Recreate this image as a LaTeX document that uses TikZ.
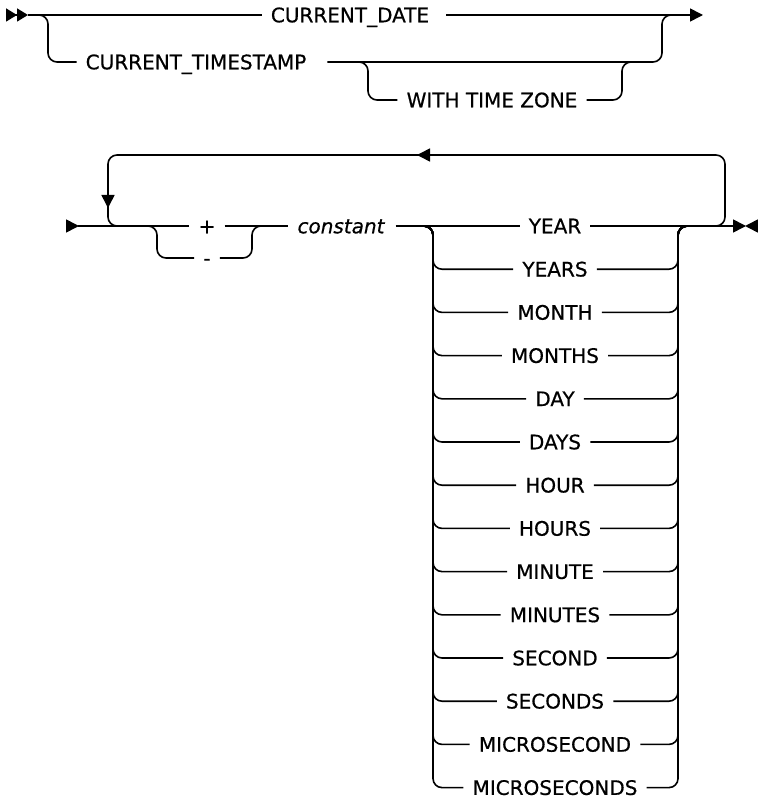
\documentclass[tikz,border=0pt]{standalone}
\usepackage{fontspec}
\setmainfont{DejaVu Sans}[FakeBold=0.6]
\usetikzlibrary{arrows.meta}
\tikzset{rail/.style={line width=1.6pt, rounded corners=9pt},
  kw/.style={font=\fontsize{20}{23}\selectfont, inner xsep=9pt, inner ysep=0pt, text height=14.6pt, text depth=0pt},
  tip/.style={-{Triangle[length=13pt,width=13pt]}}}
\begin{document}
\begin{tikzpicture}[x=1pt,y=-1pt]
\useasboundingbox (0,0) rectangle (757,799);
% first statement:
\node[kw] (cd) at (350,15) {CURRENT\_DATE};
\node[kw] (ct) at (196,62) {CURRENT\_TIMESTAMP};
\node[kw] (wtz) at (492,100) {WITH TIME ZONE};
\coordinate (a0) at (6,15);\coordinate (a1) at (48,62);\coordinate (a2) at (662,15);\coordinate (a3) at (703,15);
\coordinate (b1) at (368,100);\coordinate (b2) at (622,62);
\draw[rail, -{Triangle[length=11pt,width=13pt]Triangle[length=11pt,width=13pt]}] (a0) -- ++(22,0);
\draw[rail] ([xshift=22pt]a0) -- (cd.west);\draw[rail, tip] ([xshift=8pt]cd.east) -- (a3);
\draw[rail] ([xshift=-12pt]a1 |- a0) -| (a1) -- (ct.west);
\draw[rail] ([xshift=12pt]ct.east) -| (a2) -- ++(10,0);
\draw[rail] ([xshift=-10pt]b1 |- b2) -| (b1) -- (wtz.west);
\draw[rail] (wtz.east) -| (b2) -- ++(10,0);
% second statement:
\node[kw] (pl) at (207,226) {+};
\node[kw] (mi) at (207,258) {-};
\node[kw, font=\fontsize{20}{23}\selectfont\itshape] (cn) at (341,226) {constant};
\foreach \w [count=\i from 0] in {YEAR,YEARS,MONTH,MONTHS,DAY,DAYS,HOUR,HOURS,MINUTE,MINUTES,SECOND,SECONDS,MICROSECOND,MICROSECONDS}
  \node[kw] (u\i) at (555,226+43.2*\i) {\w};
\coordinate (c0) at (66,226);\coordinate (c1) at (108,155);\coordinate (c2) at (725,155);
\coordinate (c3) at (157,258);\coordinate (c4) at (252,226);
\coordinate (cl) at (433,226);\coordinate (cr) at (678,226);\coordinate (c5) at (746,226);
\draw[rail, tip] (c0) -- ++(13,0);\draw[rail] ([xshift=12pt]c0) -- (pl.west);
\draw[rail] ([xshift=-20pt]c2 |- cr) -| (c2) -| (c1 |- c0) -- ++(12,0);
\draw[rail, tip] (c1 -| cl) ++(-2,0) -- ++(-14,0);
\draw[rail, tip] (c1) ++(0,38) -- ++(0,15);
\draw[rail] ([xshift=-10pt]c3 |- c4) -| (c3) -- (mi.west);
\draw[rail] (mi.east) -| (c4) -- ++(10,0);
\draw[rail] (pl.east) -- (cn.west);\draw[rail] ([xshift=2pt]cn.east) -- (u0.west);
\draw[rail, tip] (u0.east) -- (c5);\draw[rail, tip] ([xshift=10pt]c5) -- ++(-11,0);
\foreach \i in {1,...,13} {
  \draw[rail] ([xshift=-10pt]cl) -| (cl |- u\i.west) -- (u\i.west);
  \draw[rail] (u\i.east) -- (cr |- u\i.east) |- ([xshift=10pt]cr);
}
\end{tikzpicture}
\end{document}
